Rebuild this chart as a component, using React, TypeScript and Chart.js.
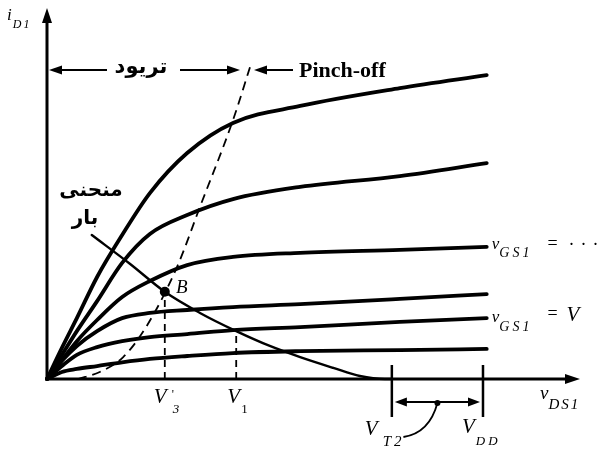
import React, { useEffect, useRef } from "react";
import { Chart, registerables } from "chart.js";

Chart.register(...registerables);

// ---- Data (axis units: 0..100 on both axes) ----
const curveX = [0, 2.8, 5.6, 9.4, 14.1, 19.3, 26.3, 34.9, 47.5, 66.2, 82.5];
const curve1 = [0, 8.4, 16.4, 27.5, 38.8, 50.1, 60.9, 69.0, 73.6, 78.4, 81.9];
const curve2 = [0, 6.5, 12.9, 21.0, 31.3, 39.1, 44.2, 48.5, 51.8, 54.7, 58.2];
const curve3 = [0, 5.1, 10.2, 15.9, 22.1, 26.4, 30.7, 32.9, 34.0, 34.8, 35.6];
const curve4 = [0, 4.9, 8.9, 12.9, 16.4, 17.8, 18.6, 19.4, 20.2, 21.6, 22.9];
const curve5 = [0, 3.5, 6.5, 8.6, 10.2, 11.3, 12.1, 13.2, 14.0, 15.4, 16.4];
const curve6 = [0, 1.9, 2.7, 3.5, 4.5, 5.4, 6.2, 7.0, 7.5, 7.8, 8.1];

const loadX = [8.4, 15.6, 22.1, 28.7, 35.5, 41.8, 47.5, 53.7, 58.7, 63.4, 64.7];
const loadY = [38.8, 31.0, 23.5, 17.8, 12.9, 8.9, 5.9, 3.0, 0.8, 0, 0];

const pinchX = [5.8, 9.9, 14.3, 18.8, 24.4, 28.7, 34.9, 38.1];
const pinchY = [0, 1.9, 5.9, 14.5, 30.2, 46.4, 69.8, 84.1];

const pointB = { x: 22.1, y: 23.5 };
const pointV1 = { x: 35.5, y: 12.9 };
const xVT2 = 64.7;
const xVDD = 81.8;

const tickLabels = ["V'3", "V1", "VT2", "VDD"];

const SERIF = "'Liberation Serif', 'DejaVu Serif', serif";
const FA = "'DejaVu Sans', 'Noto Sans', sans-serif";

function pts(xs: number[], ys: number[]) {
  return xs.map((x, i) => ({ x, y: ys[i] }));
}

function arrowHead(ctx: CanvasRenderingContext2D, x: number, y: number, dx: number, dy: number, len = 13, half = 4.5) {
  const bx = x - dx * len;
  const by = y - dy * len;
  ctx.beginPath();
  ctx.moveTo(x, y);
  ctx.lineTo(bx - dy * half, by + dx * half);
  ctx.lineTo(bx + dy * half, by - dx * half);
  ctx.closePath();
  ctx.fill();
}

function subText(
  ctx: CanvasRenderingContext2D,
  main: string,
  sub: string,
  x: number,
  y: number,
  mainSize: number,
  subSize: number,
  subDy: number,
  gap = 1,
  spacing = 0
) {
  const c: any = ctx;
  ctx.font = `italic ${mainSize}px ${SERIF}`;
  ctx.textAlign = "left";
  c.letterSpacing = "0px";
  ctx.fillText(main, x, y);
  const w = ctx.measureText(main).width;
  ctx.font = `italic ${subSize}px ${SERIF}`;
  c.letterSpacing = `${spacing}px`;
  ctx.fillText(sub, x + w + gap, y + subDy);
  const sw = ctx.measureText(sub).width;
  c.letterSpacing = "0px";
  return x + w + gap + sw;
}

const overlay = {
  id: "overlay",
  beforeDatasetsDraw(chart: any) {
    const ctx: CanvasRenderingContext2D = chart.ctx;
    const xs = chart.scales.x;
    const ys = chart.scales.y;
    const x0 = xs.getPixelForValue(0);
    const y0 = ys.getPixelForValue(0);
    const xEnd = xs.getPixelForValue(100);
    const yEnd = ys.getPixelForValue(100);
    ctx.save();
    ctx.strokeStyle = "#000";
    ctx.fillStyle = "#000";
    ctx.lineWidth = 3;
    ctx.beginPath();
    ctx.moveTo(x0, y0 + 1);
    ctx.lineTo(x0, yEnd + 10);
    ctx.moveTo(x0 - 1, y0);
    ctx.lineTo(xEnd - 10, y0);
    ctx.stroke();
    arrowHead(ctx, x0, yEnd, 0, -1, 15, 5);
    arrowHead(ctx, xEnd, y0, 1, 0, 15, 5);
    ctx.restore();
  },
  afterDatasetsDraw(chart: any) {
    const ctx: CanvasRenderingContext2D = chart.ctx;
    const xs = chart.scales.x;
    const ys = chart.scales.y;
    const X = (v: number) => xs.getPixelForValue(v);
    const Y = (v: number) => ys.getPixelForValue(v);
    const x0 = X(0);
    const y0 = Y(0);
    ctx.save();
    ctx.strokeStyle = "#000";
    ctx.fillStyle = "#000";
    ctx.textBaseline = "alphabetic";

    // y-axis label i_D1
    subText(ctx, "i", "D1", 7, 20, 17, 12, 8, 1, 2);

    // Triode arrows
    const ay = 70;
    ctx.lineWidth = 1.8;
    ctx.beginPath();
    ctx.moveTo(x0 + 8, ay);
    ctx.lineTo(107, ay);
    ctx.moveTo(180, ay);
    ctx.lineTo(232, ay);
    ctx.moveTo(262, ay);
    ctx.lineTo(293, ay);
    ctx.stroke();
    arrowHead(ctx, x0 + 2, ay, -1, 0, 13, 4.5);
    arrowHead(ctx, 240, ay, 1, 0, 13, 4.5);
    arrowHead(ctx, 254, ay, -1, 0, 13, 4.5);
    ctx.font = `bold 21px ${FA}`;
    ctx.textAlign = "center";
    ctx.fillText("تریود", 141, 73);
    ctx.textAlign = "left";
    ctx.font = `bold 22px ${SERIF}`;
    ctx.fillText("Pinch-off", 299, 77);

    // Load curve label
    ctx.font = `bold 20px ${FA}`;
    ctx.textAlign = "center";
    ctx.fillText("منحنی", 91, 196);
    ctx.fillText("بار", 85, 224);

    // B label
    ctx.textAlign = "left";
    ctx.font = `italic 19px ${SERIF}`;
    ctx.fillText("B", 176, 293);

    // v_GS1 labels
    const ex1 = X(82.5) + 5;
    let e = subText(ctx, "v", "GS1", ex1, 249, 17, 14, 8, 0, 3);
    ctx.font = `18px ${SERIF}`;
    ctx.fillText("=", e + 15, 249);
    ctx.fillText("·", e + 36, 250);
    ctx.fillText("·", e + 48, 250);
    ctx.fillText("·", e + 60, 250);
    e = subText(ctx, "v", "GS1", ex1, 322, 17, 14, 9, 0, 3);
    ctx.font = `18px ${SERIF}`;
    ctx.fillText("=", e + 15, 319);
    ctx.font = `italic 21px ${SERIF}`;
    ctx.fillText("V", e + 34, 321);

    // tick labels on x axis
    const lx3 = X(pointB.x);
    ctx.font = `italic 21px ${SERIF}`;
    ctx.fillText("V", lx3 - 11, 403);
    ctx.font = `12px ${SERIF}`;
    ctx.fillText("'", lx3 + 7, 398);
    ctx.font = `italic 13px ${SERIF}`;
    ctx.fillText("3", lx3 + 8, 413);
    const lx1 = X(pointV1.x);
    ctx.font = `italic 21px ${SERIF}`;
    ctx.fillText("V", lx1 - 9, 403);
    ctx.font = `13px ${SERIF}`;
    ctx.fillText("1", lx1 + 5, 413);

    // VT2 / VDD markers
    const xt = X(xVT2);
    const xd = X(xVDD);
    ctx.lineWidth = 2.5;
    ctx.beginPath();
    ctx.moveTo(xt, y0 - 14);
    ctx.lineTo(xt, y0 + 38);
    ctx.moveTo(xd, y0 - 14);
    ctx.lineTo(xd, y0 + 38);
    ctx.stroke();
    const dy = y0 + 23;
    ctx.lineWidth = 1.8;
    ctx.beginPath();
    ctx.moveTo(xt + 10, dy);
    ctx.lineTo(xd - 10, dy);
    ctx.stroke();
    arrowHead(ctx, xt + 3, dy, -1, 0, 12, 4.5);
    arrowHead(ctx, xd - 3, dy, 1, 0, 12, 4.5);
    const mx = (xt + xd) / 2;
    ctx.beginPath();
    ctx.arc(mx, dy + 1, 3, 0, Math.PI * 2);
    ctx.fill();
    ctx.lineWidth = 1.8;
    ctx.beginPath();
    ctx.moveTo(mx, dy + 1);
    ctx.quadraticCurveTo(mx - 8, y0 + 54, mx - 34, y0 + 58);
    ctx.stroke();

    subText(ctx, "V", "T2", xt - 27, 435, 21, 15, 11, 5, 3);
    subText(ctx, "V", "DD", xd - 21, 433, 21, 13, 12, 1, 3);
    subText(ctx, "v", "DS1", X(92.5), 399, 19, 15, 10, 0, 2);

    ctx.restore();
  },
};

export default function App() {
  const ref = useRef<HTMLCanvasElement>(null);
  useEffect(() => {
    const canvas = ref.current;
    if (!canvas) return;
    const curveStyle = {
      borderColor: "#000",
      borderWidth: 3.8,
      pointRadius: 0,
      cubicInterpolationMode: "monotone" as const,
      fill: false,
      clip: false as any,
      borderCapStyle: "round" as const,
    };
    const chart = new Chart(canvas, {
      type: "line",
      data: {
        datasets: [
          { ...curveStyle, data: pts(curveX, curve1) },
          { ...curveStyle, data: pts(curveX, curve2) },
          { ...curveStyle, data: pts(curveX, curve3) },
          { ...curveStyle, data: pts(curveX, curve4) },
          { ...curveStyle, data: pts(curveX, curve5) },
          { ...curveStyle, data: pts(curveX, curve6) },
          { ...curveStyle, borderWidth: 2.4, data: pts(loadX, loadY) },
          { ...curveStyle, borderWidth: 1.8, borderDash: [9, 6], borderCapStyle: "butt" as const, data: pts(pinchX, pinchY) },
          {
            borderColor: "#000",
            borderWidth: 1.8,
            borderDash: [7, 5],
            pointRadius: 0,
            tension: 0,
            clip: false as any,
            data: [{ x: pointB.x, y: 0 }, { x: pointB.x, y: pointB.y }],
          },
          {
            borderColor: "#000",
            borderWidth: 1.8,
            borderDash: [7, 5],
            pointRadius: 0,
            tension: 0,
            clip: false as any,
            data: [{ x: pointV1.x, y: 0 }, { x: pointV1.x, y: pointV1.y }],
          },
          {
            borderColor: "#000",
            backgroundColor: "#000",
            showLine: false,
            pointRadius: 5,
            pointBorderWidth: 0,
            clip: false as any,
            data: [pointB],
          },
        ],
      },
      options: {
        responsive: false,
        animation: false,
        devicePixelRatio: 1,
        layout: { padding: { left: 47, right: 22, top: 8, bottom: 73 } },
        scales: {
          x: { type: "linear", min: 0, max: 100, display: false },
          y: { type: "linear", min: 0, max: 100, display: false },
        },
        plugins: { legend: { display: false }, tooltip: { enabled: false } },
        events: [],
      },
      plugins: [overlay],
    });
    return () => chart.destroy();
  }, []);
  return (
    <div style={{ position: "fixed", left: 0, top: 0, width: 602, height: 452, background: "#fff" }}>
      <canvas ref={ref} width={602} height={452} style={{ display: "block", width: 602, height: 452 }} aria-label={tickLabels.join(" ")} />
    </div>
  );
}
